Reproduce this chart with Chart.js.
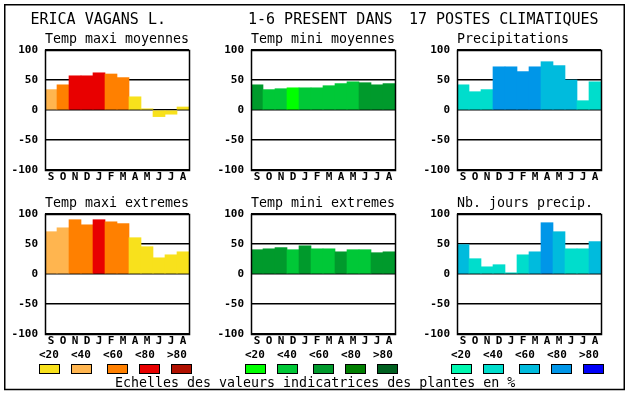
<!DOCTYPE html>
<html>
<head>
<meta charset="utf-8">
<script src="https://cdn.jsdelivr.net/npm/chart.js@4"></script>
<style>
body { margin: 0; background: #fff; }
#page { position: relative; width: 630px; height: 394px; overflow: hidden; }
canvas { position: absolute; }
</style>
</head>
<body>
<div id="page"><canvas id="bg" width="630" height="394" style="left:0;top:0"></canvas></div>
<script>
// month labels (Sept -> Aug)
const months = ['S', 'O', 'N', 'D', 'J', 'F', 'M', 'A', 'M', 'J', 'J', 'A'];
const yTicks = [-100, -50, 0, 50, 100];

// values, plus the colour class (0 = <20 ... 4 = >80)
const tempMaxiMoy = [34, 42, 57, 57, 62, 60, 54, 22, 2, -11, -7, 5];
const tempMaxiMoyCls = [1, 2, 3, 3, 3, 2, 2, 0, 0, 0, 0, 0];
const tempMiniMoy = [42, 34, 35.5, 37, 37, 37, 40.5, 44, 47, 45.5, 42, 44];
const tempMiniMoyCls = [2, 1, 1, 0, 1, 1, 1, 1, 1, 2, 2, 2];
const precip = [42, 30.5, 34, 72, 72, 64, 72, 80.5, 74, 50, 15.5, 47];
const precipCls = [1, 1, 1, 3, 3, 3, 3, 2, 2, 2, 1, 1];
const tempMaxiExt = [70.5, 77, 90.5, 82, 90.5, 87, 84, 60.5, 45.5, 27, 32, 37];
const tempMaxiExtCls = [1, 1, 2, 2, 3, 2, 2, 0, 0, 0, 0, 0];
const tempMiniExt = [40.5, 42, 44, 40.5, 47, 42, 42, 37, 40.5, 40.5, 35.5, 37];
const tempMiniExtCls = [2, 2, 2, 1, 2, 1, 1, 2, 1, 1, 2, 2];
const nbJours = [49, 25.5, 12, 15.5, 2, 32, 37, 85.5, 70.5, 42, 42, 54];
const nbJoursCls = [2, 1, 1, 1, 1, 1, 2, 3, 2, 1, 1, 2];

const legendLabels = ['<20', '<40', '<60', '<80', '>80'];
const warmColors = ['#F8E11C', '#FFB54F', '#FF8000', '#E80000', '#B01000'];
const greenColors = ['#00FF00', '#00C837', '#009A2C', '#007F00', '#006020'];
const blueColors = ['#00F8B0', '#00DDCC', '#00BBDD', '#0096E8', '#0000F8'];

const panels = [
    { title: 'Temp maxi moyennes', values: tempMaxiMoy, cls: tempMaxiMoyCls, palette: warmColors, left: 45, top: 50 },
    { title: 'Temp mini moyennes', values: tempMiniMoy, cls: tempMiniMoyCls, palette: greenColors, left: 251, top: 50 },
    { title: 'Precipitations', values: precip, cls: precipCls, palette: blueColors, left: 457, top: 50 },
    { title: 'Temp maxi extremes', values: tempMaxiExt, cls: tempMaxiExtCls, palette: warmColors, left: 45, top: 214 },
    { title: 'Temp mini extremes', values: tempMiniExt, cls: tempMiniExtCls, palette: greenColors, left: 251, top: 214 },
    { title: 'Nb. jours precip.', values: nbJours, cls: nbJoursCls, palette: blueColors, left: 457, top: 214 }
];

const MONO = "'DejaVu Sans Mono', 'Liberation Mono', monospace";

// page frame, titles, legends
const bg = document.getElementById('bg').getContext('2d');
bg.fillStyle = '#fff';
bg.fillRect(0, 0, 630, 394);
bg.strokeStyle = '#000';
bg.lineWidth = 1.5;
bg.strokeRect(4.75, 4.75, 619.5, 384.75);
bg.fillStyle = '#000';
bg.font = '15px ' + MONO;
bg.fillText('ERICA VAGANS L.', 30.5, 23.5);
bg.fillText('1-6 PRESENT DANS', 248, 23.5);
bg.fillText('17 POSTES CLIMATIQUES', 409, 23.5);
bg.font = '13.3px ' + MONO;
panels.forEach(p => bg.fillText(p.title, p.left, p.top - 7));
bg.fillText('Echelles des valeurs indicatrices des plantes en %', 115, 387);

const legendCols = [
    { x: 39, palette: warmColors },
    { x: 245, palette: greenColors },
    { x: 451, palette: blueColors }
];
const labelOffsets = [0, 32, 64, 96, 128];
const swatchOffsets = [0, 32, 68, 100, 132];
legendCols.forEach(col => {
    bg.font = 'bold 11px ' + MONO;
    legendLabels.forEach((lab, i) => {
        bg.fillStyle = '#000';
        bg.fillText(lab, col.x + labelOffsets[i], 358);
        bg.fillStyle = col.palette[i];
        bg.fillRect(col.x + swatchOffsets[i], 364, 20, 9);
        bg.strokeStyle = '#000';
        bg.lineWidth = 1;
        bg.strokeRect(col.x + swatchOffsets[i] + 0.5, 364.5, 20, 9);
    });
});

Chart.defaults.font.family = MONO;
Chart.defaults.color = '#000';

// box round the plot area
const frame = {
    id: 'frame',
    afterDraw(chart) {
        const a = chart.chartArea, c = chart.ctx;
        c.save();
        c.strokeStyle = '#000';
        c.lineWidth = 1.5;
        c.strokeRect(a.left + 0.5, a.top + 0.5, a.right - a.left, a.bottom - a.top);
        c.restore();
    }
};

panels.forEach(p => {
    const cv = document.createElement('canvas');
    cv.width = 188;
    cv.height = 146;
    cv.style.left = (p.left - 40) + 'px';
    cv.style.top = (p.top - 8) + 'px';
    document.getElementById('page').appendChild(cv);
    new Chart(cv.getContext('2d'), {
        type: 'bar',
        data: {
            labels: months,
            datasets: [{
                data: p.values,
                backgroundColor: p.cls.map(i => p.palette[i]),
                borderWidth: 0,
                barPercentage: 1,
                categoryPercentage: 1
            }]
        },
        options: {
            responsive: false,
            animation: false,
            layout: { padding: { top: 8, right: 4 } },
            plugins: { legend: { display: false }, tooltip: { enabled: false } },
            scales: {
                x: {
                    grid: { display: false, drawTicks: false },
                    border: { display: false },
                    ticks: { font: { size: 11, weight: 'bold' }, padding: 1, maxRotation: 0, autoSkip: false },
                    afterFit(s) { s.height = 18; s.paddingLeft = 0; s.paddingRight = 0; }
                },
                y: {
                    min: -100,
                    max: 100,
                    z: 1,
                    afterBuildTicks(s) { s.ticks = yTicks.map(v => ({ value: v })); },
                    ticks: { font: { size: 11, weight: 'bold' }, padding: 7 },
                    grid: { color: '#000', lineWidth: 1.5, drawTicks: false },
                    border: { display: false },
                    afterFit(s) { s.width = 40; s.paddingTop = 0; s.paddingBottom = 0; }
                }
            }
        },
        plugins: [frame]
    });
});
</script>
</body>
</html>
